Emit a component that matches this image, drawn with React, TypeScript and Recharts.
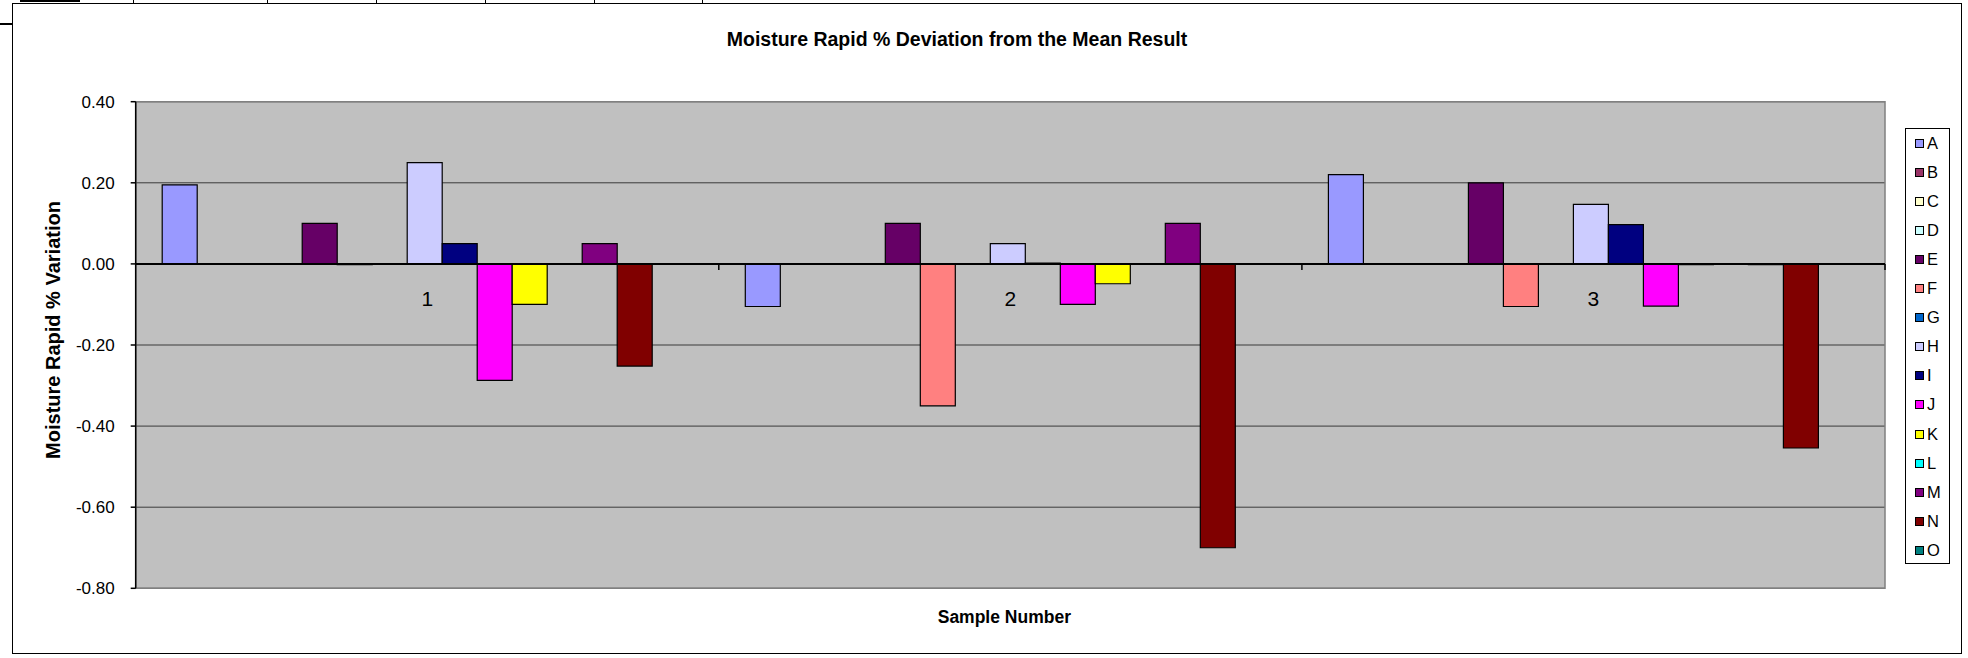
import React from 'react';
import { BarChart, Bar, XAxis, YAxis, CartesianGrid, ReferenceLine, ReferenceArea, Legend } from 'recharts';

const categories = ['1', '2', '3'];
const seriesNames = ['A', 'B', 'C', 'D', 'E', 'F', 'G', 'H', 'I', 'J', 'K', 'L', 'M', 'N', 'O'];
const seriesColors = ['#9999FF', '#993366', '#FFFFCC', '#CCFFFF', '#660066', '#FF8080', '#0066CC', '#CCCCFF', '#000080', '#FF00FF', '#FFFF00', '#00FFFF', '#800080', '#800000', '#008080'];

const A = [0.195, -0.105, 0.22];
const B = [null, null, null];
const C = [null, null, null];
const D = [null, null, null];
const E = [0.1, 0.1, 0.2];
const F = [-0.002, -0.35, -0.105];
const G = [null, null, null];
const H = [0.25, 0.05, 0.147];
const I = [0.05, 0.002, 0.097];
const J = [-0.287, -0.1, -0.104];
const K = [-0.1, -0.049, -0.002];
const L = [null, null, null];
const M = [0.05, 0.1, -0.002];
const N = [-0.252, -0.7, -0.454];
const O = [null, null, null];

const seriesValues = [A, B, C, D, E, F, G, H, I, J, K, L, M, N, O];
const yTicks = [0.4, 0.2, 0, -0.2, -0.4, -0.6, -0.8];

const data = categories.map((c, i) => {
  const row: any = { sample: c };
  seriesNames.forEach((s, k) => {
    row[s] = seriesValues[k][i];
  });
  return row;
});

const W = 1968;
const HGT = 658;
const PLOT_TOP = 101.7;
const PLOT_BOTTOM = 588.3;
const PLOT_LEFT = 135.7;
const PLOT_RIGHT = 1885;
const Y_MAX = 0.4;
const Y_MIN = -0.8;
const YAXIS_W = 80;
const XAXIS_H = 30;
const FONT = '"Liberation Sans", Arial, Helvetica, sans-serif';

const zeroY = PLOT_TOP + (Y_MAX / (Y_MAX - Y_MIN)) * (PLOT_BOTTOM - PLOT_TOP);
const band = (PLOT_RIGHT - PLOT_LEFT) / categories.length;

const CategoryTick = (props: any) => {
  const { x, payload } = props;
  const ty = zeroY + 35;
  const rx = x + band / 2;
  return (
    <g>
      <line x1={rx} y1={zeroY} x2={rx} y2={zeroY + 6} stroke="#000" strokeWidth={1.5} />
      <text x={x} y={ty} textAnchor="middle" dominantBaseline="central" fontSize={21} fontFamily={FONT} fill="#000">
        {payload.value}
      </text>
    </g>
  );
};

const LegendContent = (props: any) => {
  const { payload } = props;
  return (
    <div
      style={{
        width: 45,
        height: 436,
        boxSizing: 'border-box',
        border: '1px solid #000',
        background: '#fff',
        fontFamily: FONT,
        fontSize: 16.5,
        position: 'relative',
      }}
    >
      {(payload || []).map((p: any, i: number) => (
        <div
          key={p.value}
          style={{
            position: 'absolute',
            left: 9,
            top: 14.3 + i * 29.07 - 9,
            height: 18,
            display: 'flex',
            alignItems: 'center',
            color: '#000',
          }}
        >
          <span
            style={{
              display: 'inline-block',
              width: 7,
              height: 7,
              background: p.color,
              border: '1px solid #000',
              marginRight: 3,
            }}
          />
          <span>{p.value}</span>
        </div>
      ))}
    </div>
  );
};

export default function App() {
  return (
    <div style={{ position: 'absolute', left: 0, top: 0, width: W, height: HGT, background: '#fff', fontFamily: FONT, overflow: 'hidden' }}>
      {/* spreadsheet remnants above chart */}
      <div style={{ position: 'absolute', left: 0, top: 23, width: 12, height: 1.5, background: '#000' }} />
      {[133, 267, 376, 485, 594, 702].map((x) => (
        <div key={x} style={{ position: 'absolute', left: x, top: 0, width: 1, height: 4, background: '#000' }} />
      ))}
      <div style={{ position: 'absolute', left: 20, top: 0, width: 60, height: 2, background: '#000' }} />
      {/* chart frame */}
      <div
        style={{
          position: 'absolute',
          left: 12,
          top: 3,
          width: 1962 - 12,
          height: 654 - 3,
          border: '1.5px solid #000',
          boxSizing: 'border-box',
        }}
      />
      <div
        style={{
          position: 'absolute',
          left: 0,
          top: 0,
          width: W,
          height: HGT,
        }}
      >
        <BarChart
          width={W}
          height={HGT}
          data={data}
          margin={{ top: PLOT_TOP, right: W - PLOT_RIGHT, bottom: HGT - PLOT_BOTTOM - XAXIS_H, left: PLOT_LEFT - YAXIS_W }}
          barCategoryGap="4.545%"
          barGap={0}
        >
          <CartesianGrid horizontal={true} vertical={false} stroke="#3a3a3a" fill="#C0C0C0" fillOpacity={1} />
          <ReferenceArea y1={Y_MIN} y2={Y_MAX} fill="none" stroke="#808080" strokeWidth={1.5} ifOverflow="visible" />
          <XAxis
            dataKey="sample"
            height={XAXIS_H}
            axisLine={false}
            tickLine={false}
            tick={<CategoryTick />}
            interval={0}
          />
          <YAxis
            width={YAXIS_W}
            domain={[Y_MIN, Y_MAX]}
            ticks={yTicks}
            tickFormatter={(v: number) => v.toFixed(2)}
            axisLine={{ stroke: '#000', strokeWidth: 1.5 }}
            tickLine={{ stroke: '#000', strokeWidth: 1.5 }}
            tickSize={5}
            tickMargin={16}
            tick={{ fontSize: 17, fill: '#000', fontFamily: FONT }}
            allowDataOverflow={true}
          />
          {seriesNames.map((s, k) => (
            <Bar key={s} dataKey={s} fill={seriesColors[k]} stroke="#000" strokeWidth={1.2} isAnimationActive={false} />
          ))}
          <ReferenceLine y={0} stroke="#000" strokeWidth={2} />
          <Legend
            layout="horizontal"
            verticalAlign="middle"
            align="center"
            content={<LegendContent />}
            wrapperStyle={{ position: 'absolute', left: 1905, top: 128, width: 45, height: 436 }}
          />
        </BarChart>
      </div>
      {/* titles */}
      <div
        style={{
          position: 'absolute',
          left: 957 - 400,
          width: 800,
          top: 28,
          textAlign: 'center',
          fontWeight: 'bold',
          fontSize: 19.5,
          color: '#000',
        }}
      >
        Moisture Rapid % Deviation from the Mean Result
      </div>
      <div
        style={{
          position: 'absolute',
          left: (PLOT_LEFT + PLOT_RIGHT) / 2 - 206,
          width: 400,
          top: 607,
          textAlign: 'center',
          fontWeight: 'bold',
          fontSize: 17.5,
          color: '#000',
        }}
      >
        Sample Number
      </div>
      <div
        style={{
          position: 'absolute',
          left: 53 - 200,
          top: 330 - 12,
          width: 400,
          height: 24,
          lineHeight: '24px',
          textAlign: 'center',
          transform: 'rotate(-90deg)',
          fontWeight: 'bold',
          fontSize: 20,
          color: '#000',
        }}
      >
        Moisture Rapid % Variation
      </div>
    </div>
  );
}
